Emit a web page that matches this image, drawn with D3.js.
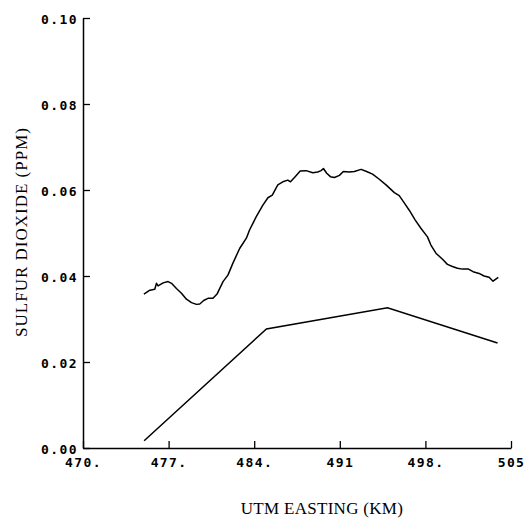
<!DOCTYPE html>
<html>
<head>
<meta charset="utf-8">
<script src="https://cdn.jsdelivr.net/npm/d3@7"></script>
<style>
  body { margin: 0; background: #fff; }
  .tick text { font-family: "DejaVu Sans Mono", monospace; font-size: 13px; font-weight: bold; letter-spacing: 1.4px; fill: #000; }
  .ttl { font-family: "Liberation Serif", serif; font-size: 17px; fill: #000; }
</style>
</head>
<body>
<svg id="chart"></svg>
<script>
// x ticks and labels (as printed on the plot)
const xTicks = [470, 477, 484, 491, 498, 505]
const xTickLabels = ['470.', '477.', '484.', '491', '498.', '505']
const yTicks = [0, 0.02, 0.04, 0.06, 0.08, 0.10]
const yTickLabels = ['0.00', '0.02', '0.04', '0.06', '0.08', '0.10']

// measured SO2 trace along the traverse
const measX = [474.98,475.47,475.87,476.01,476.14,476.55,476.96,477.24,477.64,478.05,478.46,478.87,479.28,479.55,479.87,480.22,480.63,480.96,481.45,481.85,482.26,482.81,483.36,483.62,484.17,484.71,485.12,485.48,485.93,486.34,486.75,486.97,487.35,487.76,488.25,488.79,489.20,489.47,489.66,489.93,490.23,490.56,490.97,491.29,491.78,492.19,492.74,493.19,493.68,494.23,494.78,495.46,495.86,496.27,496.68,497.17,497.63,498.17,498.45,498.86,499.40,499.80,500.21,500.62,501.03,501.52,501.90,502.39,502.80,503.21,503.53,503.96]
const measY = [0.0358,0.0367,0.0369,0.0383,0.0377,0.0384,0.0387,0.0383,0.0371,0.0360,0.0346,0.0338,0.0334,0.0335,0.0343,0.0348,0.0348,0.0358,0.0387,0.0402,0.0430,0.0464,0.0488,0.0507,0.0538,0.0565,0.0582,0.0588,0.0612,0.0619,0.0623,0.0619,0.0631,0.0644,0.0645,0.0640,0.0642,0.0645,0.0650,0.0639,0.0631,0.0629,0.0634,0.0643,0.0642,0.0643,0.0648,0.0643,0.0637,0.0625,0.0612,0.0594,0.0587,0.0570,0.0553,0.0530,0.0511,0.0491,0.0472,0.0453,0.0439,0.0427,0.0422,0.0418,0.0416,0.0416,0.0410,0.0406,0.0400,0.0397,0.0388,0.0397]

// model prediction
const modelX = [475.0, 485.0, 494.9, 503.9]
const modelY = [0.0017, 0.0277, 0.0326, 0.0244]

const width = 528
const height = 520
const margin = {left: 83, top: 18, right: 16, bottom: 72}

const svg = d3.select('#chart')
  .attr('width', width)
  .attr('height', height)

const xScale = d3.scaleLinear()
  .domain([470, 505])
  .range([margin.left, width - margin.right - 1])

const yScale = d3.scaleLinear()
  .domain([0, 0.10])
  .range([height - margin.bottom, margin.top])

// axes, ticks pointing inward
const xAxis = svg.append('g')
  .attr('transform', `translate(0,${height - margin.bottom})`)
  .call(d3.axisBottom(xScale).tickValues(xTicks)
    .tickFormat((d, i) => xTickLabels[i])
    .tickSizeInner(-7).tickSizeOuter(0).tickPadding(10))

const yAxis = svg.append('g')
  .attr('transform', `translate(${margin.left},0)`)
  .call(d3.axisLeft(yScale).tickValues(yTicks)
    .tickFormat((d, i) => yTickLabels[i])
    .tickSizeInner(-7).tickSizeOuter(0).tickPadding(5))

svg.selectAll('.domain').attr('stroke', '#000').attr('stroke-width', 1.5)
svg.selectAll('.tick line').attr('stroke', '#000').attr('stroke-width', 1.3)
yAxis.selectAll('.tick text').attr('dy', '0.4em')

const line = d3.line()
  .x(d => xScale(d[0]))
  .y(d => yScale(d[1]))

svg.append('path')
  .datum(measX.map((x, i) => [x, measY[i]]))
  .attr('fill', 'none')
  .attr('stroke', '#000')
  .attr('stroke-width', 1.5)
  .attr('stroke-linejoin', 'round')
  .attr('d', line)

svg.append('path')
  .datum(modelX.map((x, i) => [x, modelY[i]]))
  .attr('fill', 'none')
  .attr('stroke', '#000')
  .attr('stroke-width', 1.5)
  .attr('d', line)

// titles
svg.append('text')
  .attr('class', 'ttl')
  .attr('text-anchor', 'middle')
  .attr('x', 322)
  .attr('y', 514)
  .style('letter-spacing', '0.3px')
  .text('UTM EASTING (KM)')

svg.append('text')
  .attr('class', 'ttl')
  .attr('text-anchor', 'middle')
  .attr('transform', 'rotate(-90)')
  .attr('x', -232)
  .attr('y', 27)
  .style('letter-spacing', '1px')
  .text('SULFUR DIOXIDE (PPM)')
</script>
</body>
</html>
